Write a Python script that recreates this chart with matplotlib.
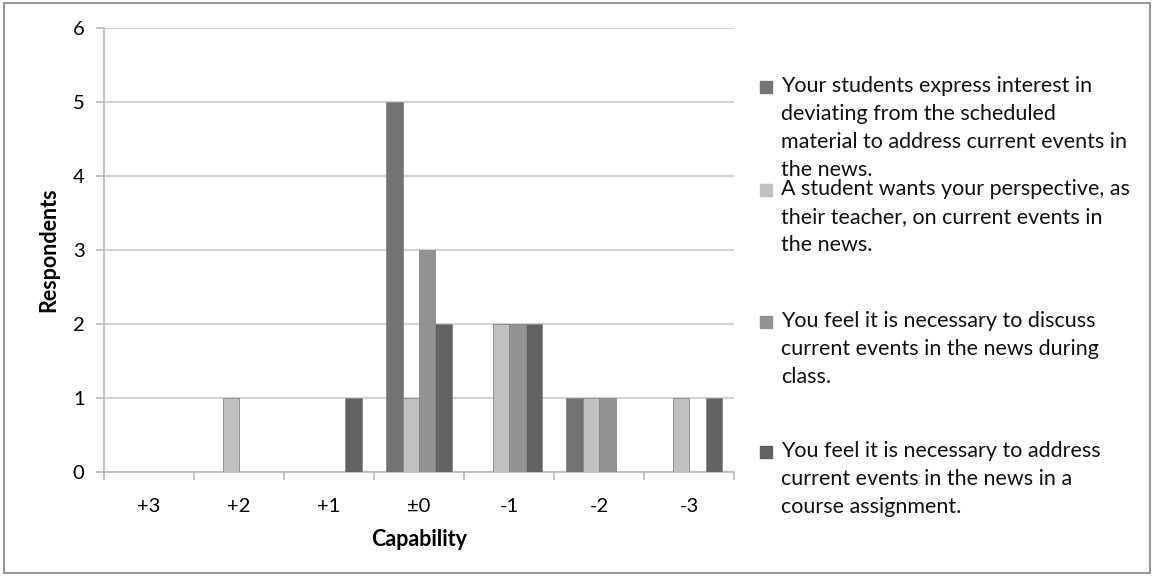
import numpy as np
import matplotlib.pyplot as plt
from matplotlib.patches import Rectangle

plt.rcParams['font.family'] = ['Lato', 'DejaVu Sans']

# data
categories = ['+3', '+2', '+1', '\u00b10', '-1', '-2', '-3']
interest = [0, 0, 0, 5, 0, 1, 0]
perspective = [0, 1, 0, 1, 2, 1, 1]
discuss = [0, 0, 0, 3, 2, 1, 0]
assignment = [0, 0, 1, 2, 2, 0, 1]

labels = [
    'Your students express interest in\ndeviating from the scheduled\nmaterial to address current events in\nthe news.',
    'A student wants your perspective, as\ntheir teacher, on current events in\nthe news.',
    'You feel it is necessary to discuss\ncurrent events in the news during\nclass.',
    'You feel it is necessary to address\ncurrent events in the news in a\ncourse assignment.',
]
colors = ['#737373', '#c0c0c0', '#939393', '#626262']
series = [interest, perspective, discuss, assignment]

fig = plt.figure(figsize=(11.54, 5.77), dpi=100)
ax = fig.add_axes([0.0901, 0.182, 0.546, 0.769])

x = np.arange(len(categories))
w = 0.183
for i, (vals, c) in enumerate(zip(series, colors)):
    ax.bar(x + (i - 1.5) * w, vals, w, color=c, edgecolor='#888888',
           linewidth=0.6, zorder=3)

ax.set_xlim(-0.5, len(categories) - 0.5)
ax.set_ylim(0, 6)
ax.set_yticks(range(7))
ax.set_xticks(x)
ax.set_xticklabels(categories, fontsize=14.5)
ax.tick_params(axis='x', length=0, pad=19)
ax.set_xticks(np.arange(-0.5, len(categories)), minor=True)
ax.tick_params(axis='x', which='minor', length=6, color='#bbbbbb', width=1.2)
ax.tick_params(axis='y', length=6, color='#bbbbbb', width=1.2, labelsize=14.5, pad=8)
ax.yaxis.grid(True, color='#d4d4d4', linewidth=1.6, zorder=0)
for s in ['top', 'right']:
    ax.spines[s].set_visible(False)
ax.spines['left'].set_color('#bbbbbb')
ax.spines['bottom'].set_color('#bbbbbb')
ax.spines['left'].set_linewidth(1.2)
ax.spines['bottom'].set_linewidth(1.2)
ax.set_ylabel('Respondents', fontsize=15.5, fontweight='bold', labelpad=10)
ax.set_xlabel('Capability', fontsize=15.5, fontweight='bold', labelpad=10)

# legend drawn by hand to keep the spacing of the original
W, H = 1154, 577
tops = [76, 179, 311, 441]
for lab, c, t in zip(labels, colors, tops):
    fig.patches.append(Rectangle((760 / W, 1 - (t + 17) / H), 12 / W, 12 / H,
                                 transform=fig.transFigure, color=c))
    fig.text(781 / W, 1 - t / H, lab, fontsize=15.5, va='top', ha='left',
             linespacing=1.5, color='#111111')

fig.patches.append(Rectangle((4 / W, 4 / H), 1146 / W, 570 / H,
                             transform=fig.transFigure, fill=False,
                             edgecolor='#999999', linewidth=1.5))

fig.savefig('out.png', dpi=100)
